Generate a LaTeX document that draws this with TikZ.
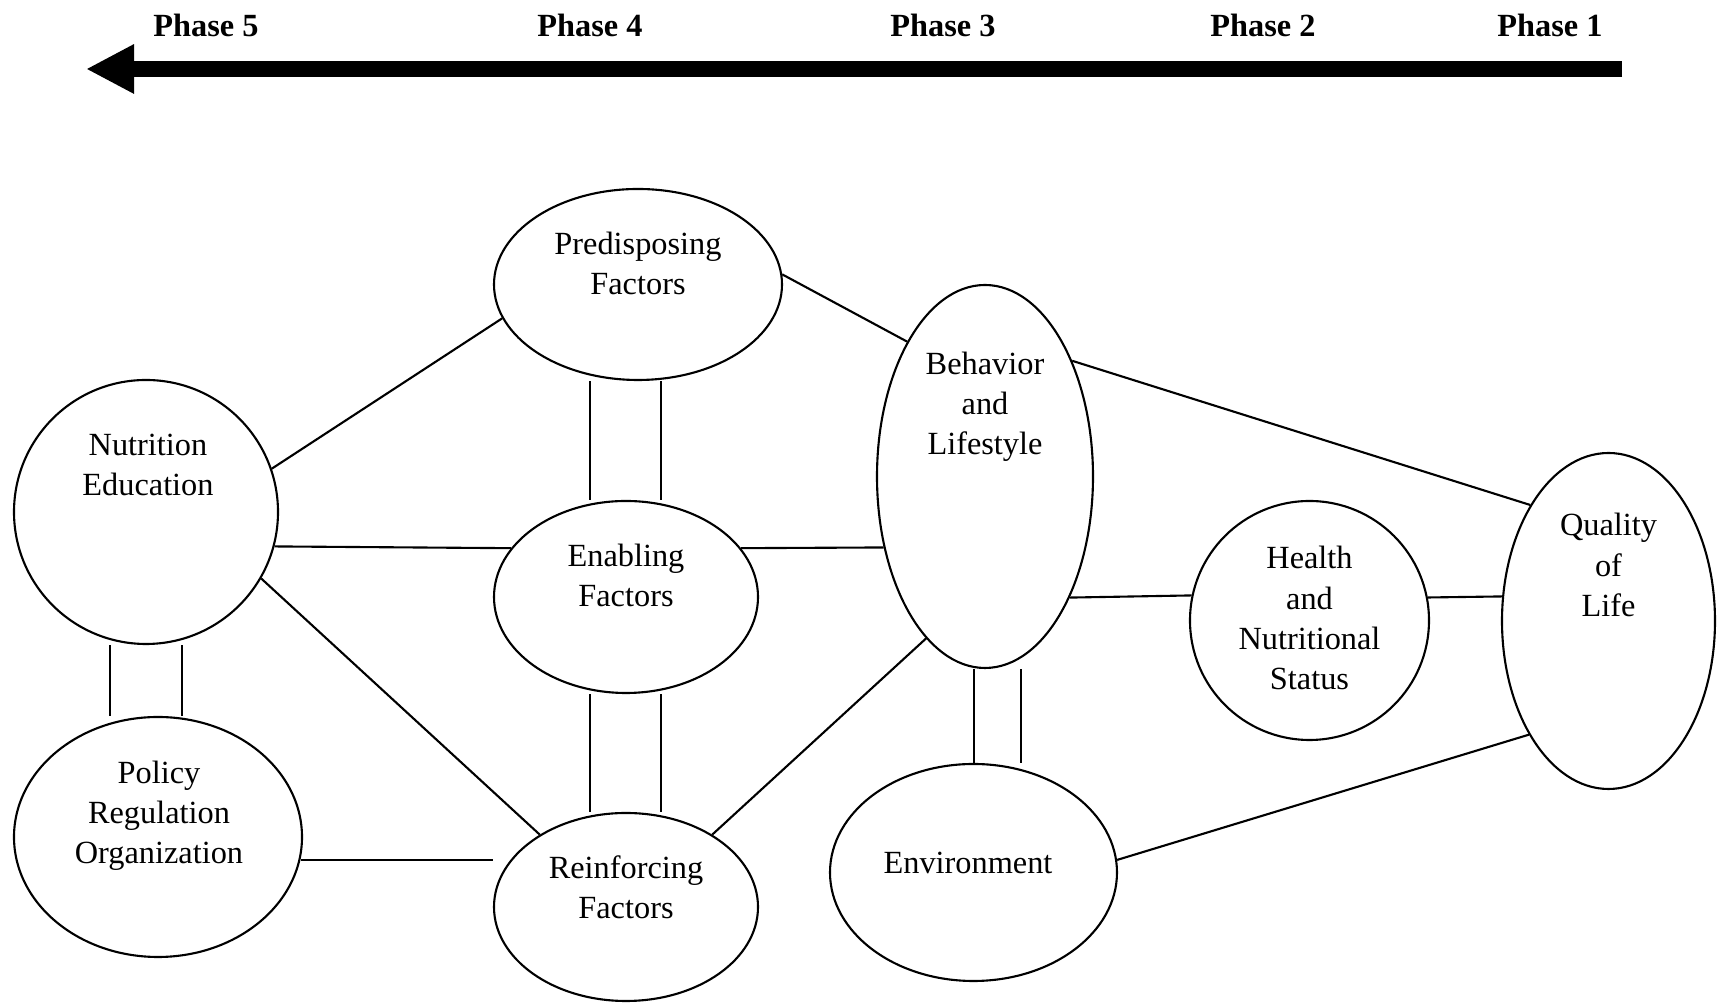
\documentclass[tikz,border=0pt]{standalone}
\usepackage{fontspec}
\setmainfont{Liberation Serif}
\usetikzlibrary{arrows.meta,positioning,shapes.geometric}

\begin{document}
\begin{tikzpicture}
[font=\fontsize{9.2}{11.4}\selectfont,
% STYLES
% The factor style is used to draw the ellipses
factor/.style={ellipse, draw, line width=0.6pt, inner sep=0pt},
% The factortext style is used to write the name inside each ellipse
factortext/.style={align=center, inner sep=0pt},
% The phase style is used for the phase titles on top
phase/.style={font=\fontsize{9.2}{11.4}\selectfont\bfseries, inner sep=0pt},
% The link style is used for the lines between the ellipses
link/.style={line width=0.6pt}]

\useasboundingbox (0,0) rectangle (17.17,10.05);

% Draw phases
\node [phase] (phase5) at (2.06,9.80) {Phase 5};
\node [phase] (phase4) at (5.90,9.80) {Phase 4};
\node [phase] (phase3) at (9.43,9.80) {Phase 3};
\node [phase] (phase2) at (12.63,9.80) {Phase 2};
\node [phase] (phase1) at (15.50,9.80) {Phase 1};

\coordinate (arrow-start) at (16.22,9.36);
\coordinate (arrow-end) at (0.86,9.36);
\draw [line width=1.55mm, -{Triangle[length=4.8mm,width=4.6mm]}] (arrow-start) -- (arrow-end);

% Draw factors
\node [factor, minimum width=2.88cm, minimum height=1.91cm] (pre) at (6.38,7.205) {};
\node [factor, minimum width=2.64cm, minimum height=2.64cm] (nut) at (1.46,4.93) {};
\node [factor, minimum width=2.64cm, minimum height=1.92cm] (ena) at (6.26,4.08) {};
\node [factor, minimum width=2.88cm, minimum height=2.40cm] (pol) at (1.58,1.68) {};
\node [factor, minimum width=2.64cm, minimum height=1.88cm] (rei) at (6.26,0.98) {};
\node [factor, minimum width=2.16cm, minimum height=3.83cm] (beh) at (9.85,5.285) {};
\node [factor, minimum width=2.87cm, minimum height=2.17cm] (env) at (9.735,1.325) {};
\node [factor, minimum width=2.39cm, minimum height=2.39cm] (hea) at (13.095,3.845) {};
\node [factor, minimum width=2.13cm, minimum height=3.36cm] (qua) at (16.085,3.84) {};

%%%%%%%%%%%%%%%
% Names of the factors
\node [factortext] (pre-text) at ([yshift=2.1mm]pre.center) {Predisposing\\Factors};
\node [factortext] (nut-text) at ([xshift=0.2mm,yshift=4.7mm]nut.center) {Nutrition\\Education};
\node [factortext] (ena-text) at ([yshift=2.2mm]ena.center) {Enabling\\Factors};
\node [factortext] (pol-text) at ([xshift=0.1mm,yshift=2.1mm]pol.center) {Policy\\Regulation\\Organization};
\node [factortext] (rei-text) at ([yshift=2.0mm]rei.center) {Reinforcing\\Factors};
\node [factortext] (beh-text) at ([yshift=7.0mm]beh.center) {Behavior\\and\\Lifestyle};
\node [factortext] (env-text) at ([xshift=-0.55mm,yshift=0.95mm]env.center) {Environment};
\node [factortext] (hea-text) at ([yshift=0.25mm]hea.center) {Health\\and\\Nutritional\\Status};
\node [factortext] (qua-text) at ([yshift=5.6mm]qua.center) {Quality\\of\\Life};
%%%%%%%%%%%%%%%

% Draw the links between factors
\path [link]
(nut.19.9) edge (pre.194.6)
(nut.-15.7) edge (ena.157)
(nut.-30.4) edge (rei.140.1)
(pol.-9.5) edge (pol.-9.5 -| rei.west)
(pre.4) edge (beh.120)
(ena.23) edge (beh.215.7)
(rei.40.3) edge (beh.250.7)
(beh.53.7) edge (qua.124.3)
(beh.-55.5) edge (hea.168.5)
(hea.11.5) edge (qua.167)
(env.5) edge (qua.235.5);

% Double links
\path [link]
([xshift=-3.6mm]nut.south) edge ([xshift=-3.6mm]nut.south |- pol.north)
([xshift=3.6mm]nut.south) edge ([xshift=3.6mm]nut.south |- pol.north)
([xshift=-4.8mm]pre.south) edge ([xshift=-4.8mm]pre.south |- ena.north)
([xshift=2.3mm]pre.south) edge ([xshift=2.3mm]pre.south |- ena.north)
([xshift=-3.6mm]ena.south) edge ([xshift=-3.6mm]ena.south |- rei.north)
([xshift=3.5mm]ena.south) edge ([xshift=3.5mm]ena.south |- rei.north)
([xshift=-1.1mm]beh.south) edge ([xshift=-1.1mm]beh.south |- env.north)
([xshift=3.6mm]beh.south) edge ([xshift=3.6mm]beh.south |- env.north);

\end{tikzpicture}
\end{document}
